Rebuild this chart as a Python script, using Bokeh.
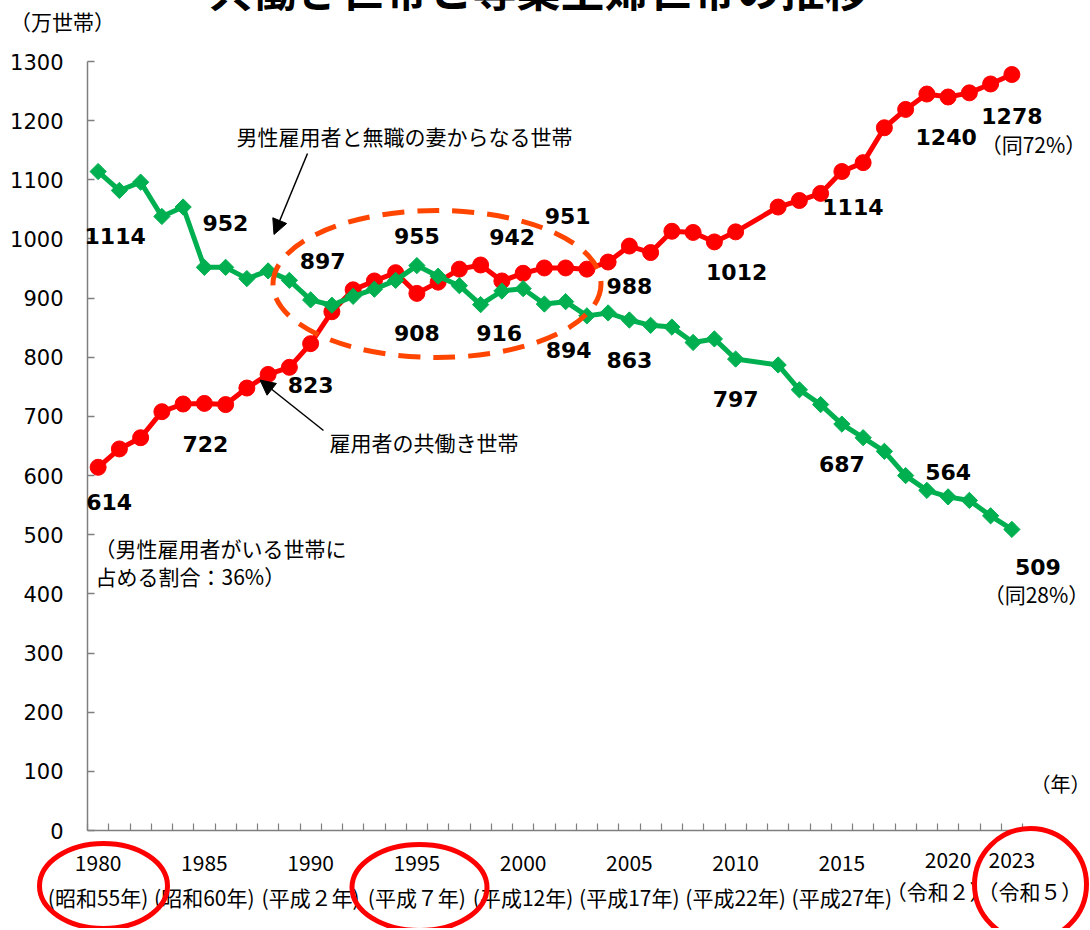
import numpy as np
from bokeh.plotting import figure
from bokeh.models import (ColumnDataSource, Range1d, LinearAxis, FixedTicker,
                          Arrow, NormalHead)
from bokeh.core.properties import value
from bokeh.embed import file_html
from bokeh.resources import INLINE

# ---------------- data ----------------
years = [1980, 1981, 1982, 1983, 1984, 1985, 1986, 1987, 1988, 1989,
         1990, 1991, 1992, 1993, 1994, 1995, 1996, 1997, 1998, 1999,
         2000, 2001, 2002, 2003, 2004, 2005, 2006, 2007, 2008, 2009,
         2010, 2012, 2013, 2014, 2015, 2016, 2017, 2018, 2019,
         2020, 2021, 2022, 2023]
dual_income = [614, 645, 664, 708, 721, 722, 720, 748, 771, 783,
               823, 877, 914, 929, 943, 908, 927, 949, 956, 929,
               942, 951, 951, 949, 961, 988, 977, 1013, 1011, 995,
               1012, 1054, 1065, 1077, 1114, 1129, 1188, 1219, 1245,
               1240, 1247, 1262, 1278]
housewife = [1114, 1082, 1096, 1038, 1054, 952, 952, 933, 946, 930,
             897, 888, 903, 915, 930, 955, 937, 921, 889, 912,
             916, 890, 894, 870, 875, 863, 854, 851, 825, 831,
             797, 787, 745, 720, 687, 664, 641, 600, 575,
             564, 558, 532, 509]

y_ticks = [0, 100, 200, 300, 400, 500, 600, 700, 800, 900, 1000, 1100, 1200, 1300]
x_label_years = [1980, 1985, 1990, 1995, 2000, 2005, 2010, 2015, 2020, 2023]
x_era_labels = ["(昭和55年)", "(昭和60年)", "(平成２年)", "(平成７年)", "(平成12年)",
                "(平成17年)", "(平成22年)", "(平成27年)", "（令和２）", "（令和５）"]

# labelled points and label offsets (px; positive dy = downwards)
red_label_years = [1980, 1985, 1990, 1995, 2000, 2002, 2005, 2010, 2015, 2020, 2023]
red_label_dx = [11, 1, 0, 0, -11, 2, 0, 1, 11, -2, 0]
red_label_dy = [35, 41, 41, 40, -36, -52, 40, 40, 35, 40, 41]
green_label_years = [1980, 1985, 1990, 1995, 2000, 2002, 2005, 2010, 2015, 2020, 2023]
green_label_dx = [17, 21, 12, 0, -24, 3, 0, 0, 0, 0, 26]
green_label_dy = [64, -44, -39, -30, 44, 48, 40, 40, 40, -25, 38]

RED = "#FF0000"
GREEN = "#00B050"
ORANGE = "#FF4500"
AXIS = "#7F7F7F"
JP = "Noto Sans CJK JP"
NUM = "DejaVu Sans"

# ---------------- layout helpers (reference pixel -> data) ----------------
FL, FT, FW, FH = 87, 61, 935, 769
X0, X1, Y0, Y1 = 1979.5, 2023.5, 0, 1300


def dx(px):
    return X0 + (px - FL) * (X1 - X0) / FW


def dy(py):
    return Y0 + (FT + FH - py) * (Y1 - Y0) / FH


p = figure(frame_width=FW, frame_height=FH,
           x_range=Range1d(X0, X1), y_range=Range1d(Y0, Y1),
           x_axis_type=None, y_axis_type=None,
           output_backend="svg", toolbar_location=None,
           min_border_left=FL, min_border_right=68,
           min_border_top=FT, min_border_bottom=98)
p.outline_line_color = None
p.background_fill_color = "white"
p.border_fill_color = "white"

yaxis = LinearAxis(ticker=FixedTicker(ticks=y_ticks),
                   major_tick_in=7, major_tick_out=0,
                   minor_tick_in=0, minor_tick_out=0,
                   axis_line_color=AXIS, axis_line_width=1.5,
                   major_tick_line_color=AXIS, major_tick_line_width=1.5,
                   major_label_text_font=NUM, major_label_text_font_size="21px",
                   major_label_text_color="black", major_label_standoff=24)
p.add_layout(yaxis, "left")

xaxis = LinearAxis(ticker=FixedTicker(ticks=[y - 0.5 for y in range(1980, 2025)]),
                   major_tick_in=7, major_tick_out=0,
                   minor_tick_in=0, minor_tick_out=0,
                   axis_line_color=AXIS, axis_line_width=1.5,
                   major_tick_line_color=AXIS, major_tick_line_width=1.2,
                   major_label_text_color=None, major_label_text_font_size="1px")
p.add_layout(xaxis, "below")

# ---------------- series ----------------
src = ColumnDataSource(dict(year=years, dual=dual_income, wife=housewife))
p.line("year", "dual", source=src, line_color=RED, line_width=5)
p.scatter("year", "dual", source=src, marker="circle", size=16,
          fill_color=RED, line_color=RED)
p.line("year", "wife", source=src, line_color=GREEN, line_width=5)
p.scatter("year", "wife", source=src, marker="square", angle=np.pi / 4, size=11.5,
          fill_color=GREEN, line_color=GREEN)

# dashed highlight ellipse
p.ellipse(x=[dx(436.5)], y=[dy(283.5)], width=[328], height=[147],
          width_units="screen", height_units="screen",
          fill_color=None, line_color=ORANGE, line_width=5, line_dash="22 13")

# ---------------- data labels (text glyphs, drawn unclipped) ----------------
lookup_red = dict(zip(years, dual_income))
lookup_green = dict(zip(years, housewife))
red_lbl = ColumnDataSource(dict(
    x=red_label_years, y=[lookup_red[y] for y in red_label_years],
    text=[str(lookup_red[y]) for y in red_label_years],
    xo=red_label_dx, yo=red_label_dy))
green_lbl = ColumnDataSource(dict(
    x=green_label_years, y=[lookup_green[y] for y in green_label_years],
    text=[str(lookup_green[y]) for y in green_label_years],
    xo=green_label_dx, yo=green_label_dy))
for s in (red_lbl, green_lbl):
    p.text(x="x", y="y", text="text", x_offset="xo", y_offset="yo", source=s,
           text_font=value(NUM), text_font_style="bold", text_font_size="22px",
           text_color="black", text_align="center", text_baseline="middle",
           level="overlay")


def lab(px, py, text, size="21px", align="center", font=JP, style="normal",
        baseline="middle"):
    p.text(x=[dx(px)], y=[dy(py)], text=[text], text_font=value(font),
           text_font_size=size, text_align=align, text_baseline=baseline,
           text_font_style=style, text_color="black", level="overlay")


lab(1033, 143, "（同72%）", size="21px")
lab(1036, 593, "（同28%）", size="21px")

# title (cut off at top of picture)
lab(538, -13, "共働き世帯と専業主婦世帯の推移", size="44px", style="bold",
    baseline="alphabetic")
lab(62, 20, "（万世帯）", size="21px")
lab(1060, 783, "（年）", size="20px")

# annotations
lab(236, 135, "男性雇用者と無職の妻からなる世帯", size="21px", align="left")
lab(329, 441, "雇用者の共働き世帯", size="21px", align="left")
lab(94, 547, "（男性雇用者がいる世帯に", size="21px", align="left")
lab(95, 575, "占める割合：36%）", size="21px", align="left")

p.add_layout(Arrow(end=NormalHead(size=15, fill_color="black", line_color="black"),
                   x_start=dx(307), y_start=dy(153), x_end=dx(273.5), y_end=dy(234),
                   line_color="black", line_width=1.5))
p.add_layout(Arrow(end=NormalHead(size=15, fill_color="black", line_color="black"),
                   x_start=dx(323), y_start=dy(430), x_end=dx(259.5), y_end=dy(379.5),
                   line_color="black", line_width=1.5))

# x-axis tick labels (year + era), two rows
late = [yr >= 2020 for yr in x_label_years]
era_shift = [{2020: -10, 2023: 18}.get(yr, 0) for yr in x_label_years]
xl_src = ColumnDataSource(dict(
    x=x_label_years,
    yy=[dy(859 if l else 862) for l in late],
    ye=[dy(890 if l else 896) for l in late],
    year_text=[str(yr) for yr in x_label_years],
    era_text=x_era_labels,
    shift=era_shift))
p.text(x="x", y="yy", text="year_text", source=xl_src, text_font=value(JP),
       text_font_size="21px", text_align="center", text_baseline="middle",
       text_color="black", level="overlay")
p.text(x="x", y="ye", text="era_text", x_offset="shift", source=xl_src,
       text_font=value(JP), text_font_size="21px", text_align="center",
       text_baseline="middle", text_color="black", level="overlay")

# red highlight circles around the axis labels
for cx, cy, w, h in [(103, 885.5, 128, 85), (419, 887, 135, 86), (1030, 884, 112, 112)]:
    p.ellipse(x=[dx(cx)], y=[dy(cy)], width=[w], height=[h],
              width_units="screen", height_units="screen",
              fill_color=None, line_color=RED, line_width=5, level="overlay")

open("out.html", "w").write(file_html(p, INLINE))
